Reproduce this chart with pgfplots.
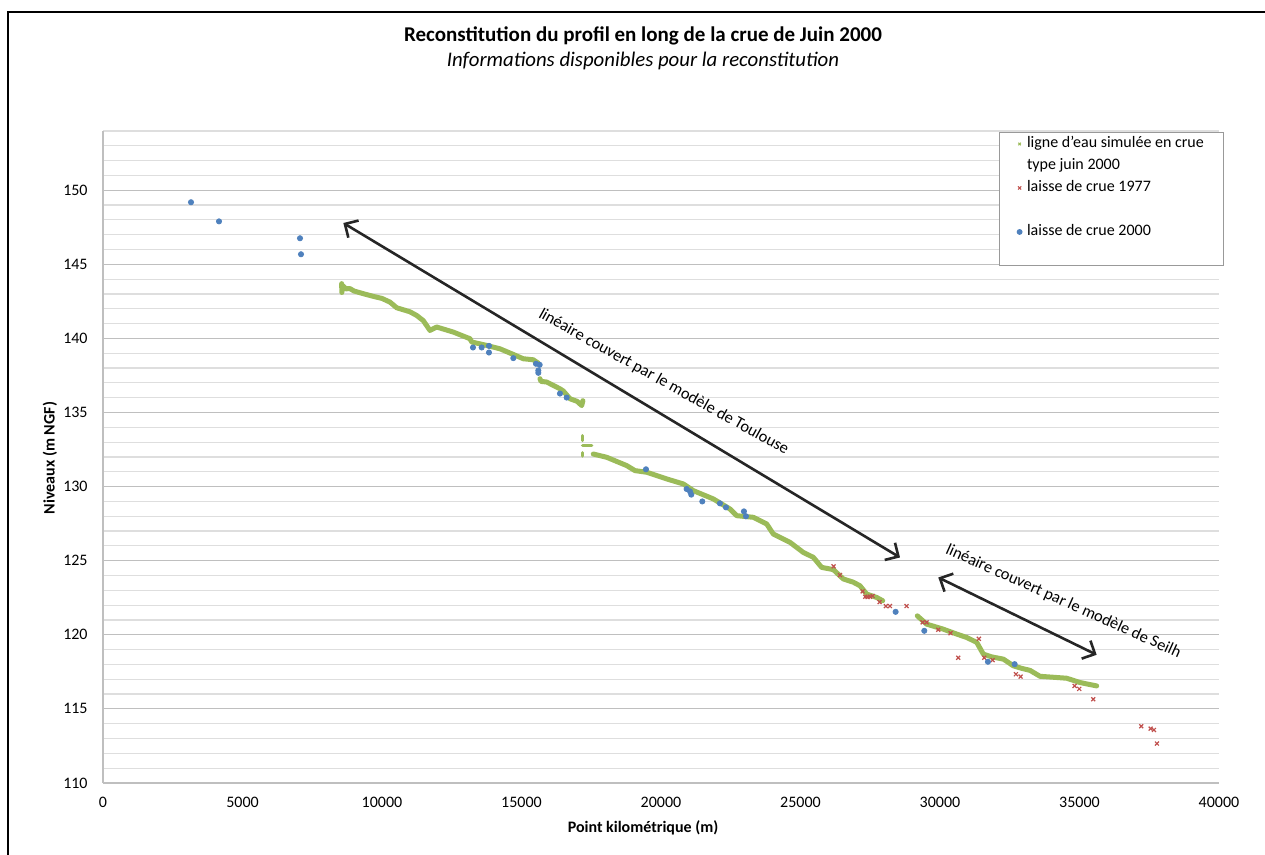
\documentclass[border=0pt]{standalone}
\usepackage{pgfplots}
\pgfplotsset{compat=1.18}
\usepackage{fontspec}
\setmainfont{Carlito}
\usetikzlibrary{arrows.meta}
\definecolor{green9}{RGB}{155,187,89}
\definecolor{red9}{RGB}{192,80,77}
\definecolor{blue9}{RGB}{79,129,189}
\definecolor{gridmaj}{RGB}{191,191,191}
\definecolor{gridmin}{RGB}{222,222,222}
\begin{document}
\begin{tikzpicture}
\useasboundingbox (0,0) rectangle (632.5pt,427.5pt);
\draw[line width=0.9pt] (4pt,0) -- (4pt,421.5pt) -- (632.5pt,421.5pt);
\node[font=\fontsize{10.5}{12}\selectfont\bfseries] at (321.5pt,409.5pt) {Reconstitution du profil en long de la crue de Juin 2000};
\node[font=\fontsize{10.4}{12}\selectfont\itshape] at (321.5pt,397pt) {Informations disponibles pour la reconstitution};
\node[font=\fontsize{8}{10}\selectfont\bfseries, rotate=90] at (25pt,198.5pt) {Niveaux (m NGF)};
\node[font=\fontsize{8}{10}\selectfont\bfseries] at (321.5pt,13.5pt) {Point kilométrique (m)};
\begin{axis}[
  at={(51.5pt,36pt)}, anchor=south west,
  scale only axis, width=558pt, height=326pt,
  xmin=0, xmax=40000, ymin=110, ymax=154,
  xtick={0,5000,...,40000}, ytick={110,115,...,150},
  minor ytick={111,...,154},
  ymajorgrids, yminorgrids,
  major grid style={draw=gridmaj, line width=0.6pt},
  minor grid style={draw=gridmin, line width=0.6pt},
  axis x line*=bottom, axis y line*=left,
  axis line style={-, draw=gridmaj, line width=0.6pt},
  major tick length=0pt, minor tick length=0pt,
  scaled x ticks=false,
  /pgf/number format/1000 sep={},
  /pgf/number format/assume math mode=true,
  tick label style={font=\fontsize{8}{10}\selectfont, inner sep=0pt},
  xticklabel style={anchor=center, yshift=-9.5pt},
  yticklabel style={anchor=east, xshift=-7.5pt},
  clip=false,
  legend style={at={(rel axis cs:0.8029,0.9985)}, anchor=north west,
    draw=gray!80, line width=0.5pt, font=\fontsize{8}{10}\selectfont,
    inner xsep=1.5pt, inner ysep=1.75pt, row sep=3pt,
    nodes={inner ysep=0pt, inner xsep=2.5pt, text height=6pt, text depth=2pt}},
  legend cell align=left,
]
% simulated water line
\pgfplotsset{gline/.style={forget plot, color=green9, line width=2.5pt, line join=round, line cap=round}}
\addplot[gline] coordinates {(8555,143.7)(8560,143.1)(8600,143.55)(8700,143.35)(8853,143.36)(9000,143.2)(9330,143.02)(9688,142.84)(10000,142.7)(10287,142.45)(10527,142.07)(11000,141.8)(11244,141.55)(11480,141.2)(11720,140.54)(11960,140.77)(12555,140.43)(13154,139.98)(13215,139.76)(13752,139.53)(14229,139.3)(14706,138.92)(15064,138.63)(15423,138.56)(15602,138.33)};
\addplot[gline] coordinates {(15663,137.28)(15700,137.1)(15903,137.06)(16380,136.6)(16500,136.45)(16738,135.93)(17000,135.75)(17157,135.47)(17200,135.8)};
\addplot[gline, line width=1.5pt] coordinates {(17193,133.45)(17193,133.11)};
\addplot[gline, line width=1.8pt] coordinates {(17193,132.77)(17516,132.77)};
\addplot[gline, line width=1.5pt] coordinates {(17193,132.3)(17193,132.05)};
\addplot[gline] coordinates {(17573,132.2)(18053,131.98)(18770,131.42)(19068,131.08)(19487,130.97)(20204,130.52)(20800,130.18)(21158,129.73)(21875,129.17)(22473,128.49)(22713,128.04)(23308,127.93)(23788,127.48)(24025,126.8)(24623,126.24)(25100,125.56)(25459,125.23)(25759,124.55)(26176,124.40)(26534,123.77)(26892,123.55)(27132,123.31)(27372,122.75)(27731,122.52)(27946,122.3)};
\addplot[gline] coordinates {(29186,121.28)(29523,120.72)(30118,120.38)(30598,120.05)(30957,119.82)(31316,119.49)(31552,118.7)(31853,118.51)(32269,118.36)(32627,117.91)(32900,117.75)(33226,117.6)(33584,117.2)(34541,117.07)(35017,116.78)(35616,116.55)};
% laisse de crue 1977
\addplot[forget plot, only marks, mark=x, mark size=1.4pt, color=red9, mark options={line width=0.6pt}] coordinates {(26186,124.62)(26414,124.03)(27226,122.93)(27321,122.57)(27405,122.55)(27488,122.57)(27584,122.62)(27835,122.21)(28061,121.94)(28205,121.94)(28802,121.94)(29376,120.84)(29519,120.84)(29937,120.34)(30379,120.11)(31394,119.73)(30653,118.45)(31586,118.45)(31886,118.29)(32721,117.34)(32889,117.18)(34825,116.55)(34991,116.35)(35493,115.65)(37213,113.83)(37549,113.67)(37667,113.58)(37775,112.66)};
% laisse de crue 2000
\addplot[forget plot, only marks, mark=*, mark size=1.3pt, color=blue9] coordinates {(3154,149.19)(4158,147.9)(7061,146.76)(7097,145.68)(13261,139.39)(13572,139.39)(13834,139.5)(13834,139.05)(14706,138.67)(15519,138.29)(15651,138.22)(15603,137.84)(15603,137.68)(16379,136.28)(16619,136.01)(19461,131.17)(20919,129.84)(21038,129.68)(21085,129.46)(21480,129.0)(22113,128.87)(22328,128.6)(22973,128.33)(23045,128.0)(28410,121.55)(29437,120.27)(31718,118.18)(32675,118.02)};
% legend
\addlegendimage{only marks, mark=x, mark size=0.9pt, color=green9}
\addlegendentry{\makebox[94pt][l]{ligne d'eau simulée en crue}}
\addlegendimage{empty legend}
\addlegendentry{type juin 2000}
\addlegendimage{only marks, mark=x, mark size=1.1pt, color=red9}
\addlegendentry{laisse de crue 1977}
\addlegendimage{empty legend}
\addlegendentry{}
\addlegendimage{only marks, mark=*, mark size=1.2pt, color=blue9}
\addlegendentry{laisse de crue 2000}
\addlegendimage{empty legend}
\addlegendentry{}
% annotations
\draw[line width=1.3pt, color=black!85, {Straight Barb[length=5pt,width=10pt]}-{Straight Barb[length=5pt,width=10pt]}] (axis cs:8614,147.79) -- (axis cs:28566,125.22);
\draw[line width=1.3pt, color=black!85, {Straight Barb[length=5pt,width=10pt]}-{Straight Barb[length=5pt,width=10pt]}] (axis cs:29939,123.87) -- (axis cs:35616,118.65);
\node[font=\fontsize{8.2}{10}\selectfont, rotate=-29.1] at (axis cs:20097,137.05) {linéaire couvert par le modèle de Toulouse};
\node[font=\fontsize{8.2}{10}\selectfont, rotate=-24.2] at (axis cs:34420,122.24) {linéaire couvert par le modèle de Seilh};
\end{axis}
\end{tikzpicture}
\end{document}
